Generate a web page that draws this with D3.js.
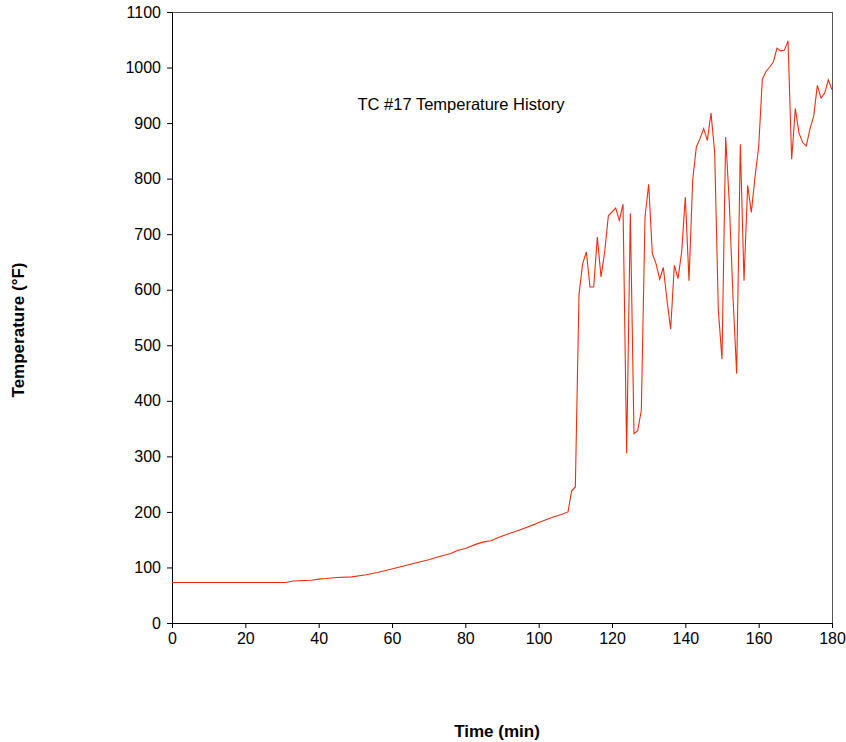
<!DOCTYPE html>
<html><head><meta charset="utf-8">
<script src="https://cdn.jsdelivr.net/npm/d3@7"></script>
<style>body{margin:0;background:#fff}svg{display:block}text{font-family:"Liberation Sans",Arial,sans-serif}</style>
</head><body>
<script>
const times = [0,31,33,38,40,42,45,49,53,56,58,61,64,67,70,72,76,78,80,83,85,87,89,92,95,97,99,100,102,104,106,108,109,110,
111,112,113,114,115,116,117,118,119,120,121,122,123,124,125,126,127,128,129,130,131,132,133,134,135,136,137,138,139,140,
141,142,143,144,145,146,147,148,149,150,151,152,153,154,155,156,157,158,159,160,161,162,163,164,165,166,167,168,169,170,
171,172,173,174,175,176,177,178,179,180];
const temps = [73,73,75.5,77,79,80,82,83,87,91,94,99,104,109,114,118,125,131,134,142,146,148,154,161,168,173,178,181,186,191,195,200,238,245,
592,647,668,605,605,695,623,668,733,740,747,725,754,305,737,341,346,383,731,790,665,647,619,640,581,529,644,620,668,767,
616,797,857,872,890,869,918,848,563,475,875,755,587,449,862,616,788,739,803,857,979,993,1001,1010,1035,1030,1031,1048,835,926,
882,865,859,890,912,968,945,954,978,960];
const xTicks = [0,20,40,60,80,100,120,140,160,180];
const yTicks = [0,100,200,300,400,500,600,700,800,900,1000,1100];
const title = "TC #17 Temperature History";
const xTitle = "Time (min)";
const yTitle = "Temperature (°F)";

const W=846,H=742, L=172,R=832,T=12,B=623;
const svg=d3.select("body").append("svg").attr("width",W).attr("height",H);
const x=d3.scaleLinear().domain([0,180]).range([L,R]);
const y=d3.scaleLinear().domain([0,1100]).range([B,T]);

svg.append("line").attr("x1",L).attr("x2",R).attr("y1",T+0.5).attr("y2",T+0.5).attr("stroke","#555");
svg.append("line").attr("x1",R+0.5).attr("x2",R+0.5).attr("y1",T).attr("y2",B).attr("stroke","#555");

const xa=svg.append("g").attr("transform",`translate(0,${B})`);
xa.call(d3.axisBottom(x).tickValues(d3.range(0,181,10)).tickSize(4).tickFormat(""));
xa.call(d3.axisBottom(x).tickValues(xTicks).tickSize(5).tickPadding(5).tickFormat(d3.format("d")));
const ya=svg.append("g").attr("transform",`translate(${L},0)`);
ya.call(d3.axisLeft(y).tickValues(d3.range(0,1101,50)).tickSize(3).tickFormat(""));
ya.call(d3.axisLeft(y).tickValues(yTicks).tickSize(5).tickPadding(6).tickFormat(d3.format("d")));
svg.selectAll(".domain").attr("stroke","#000");
svg.selectAll(".tick line").attr("stroke","#000");
svg.selectAll(".tick text").attr("font-size",16).attr("font-family","'Liberation Sans',Arial,sans-serif").attr("fill","#000");

const data=times.map((t,i)=>[t,temps[i]]);
svg.append("path").datum(data).attr("fill","none").attr("stroke","#e8300e").attr("stroke-width",1.1)
  .attr("d",d3.line().x(d=>x(d[0])).y(d=>y(d[1])));

svg.append("text").attr("x",461).attr("y",110).attr("text-anchor","middle").attr("font-size",16.5).text(title);
svg.append("text").attr("x",497).attr("y",737).attr("text-anchor","middle").attr("font-size",17).attr("font-weight","bold").text(xTitle);
svg.append("text").attr("transform","translate(24,330) rotate(-90)").attr("text-anchor","middle").attr("font-size",17).attr("font-weight","bold").text(yTitle);
</script>
</body></html>
